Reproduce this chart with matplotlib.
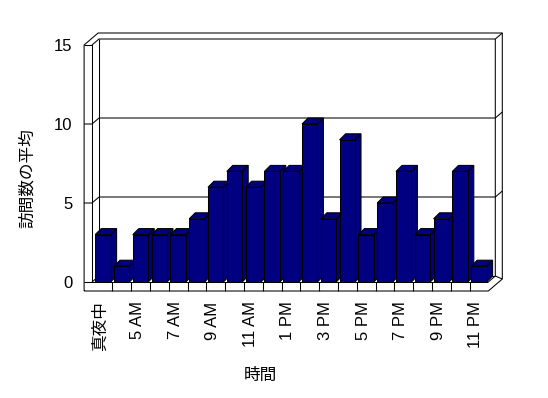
import numpy as np
import matplotlib.pyplot as plt
from matplotlib.patches import Polygon
from matplotlib.transforms import ScaledTranslation

plt.rcParams['font.family'] = ['Liberation Sans', 'Noto Sans CJK JP']

hours = ['真夜中', '4 AM', '5 AM', '6 AM', '7 AM', '8 AM', '9 AM', '10 AM', '11 AM',
         '正午', '1 PM', '2 PM', '3 PM', '4 PM', '5 PM', '6 PM', '7 PM', '8 PM',
         '9 PM', '10 PM', '11 PM']
visits = [3, 1, 3, 3, 3, 4, 6, 7, 6, 7, 7, 10, 4, 9, 3, 5, 7, 3, 4, 7, 1]
yticks = [0, 5, 10, 15]

navy = '#000080'
lw = 0.75

fig = plt.figure(figsize=(5.48, 3.98), dpi=100)
W, H = 548, 398
ax = fig.add_axes([93.5 / W, (H - 282) / H, 394.8 / W, 237 / H])
n = len(hours)
ax.set_xlim(-0.5, n - 0.5)
ax.set_ylim(0, 15)
for s in ax.spines.values():
    s.set_visible(False)


def off(x, y, dx, dy):
    # move a data point by (dx, dy) pixels
    p = ax.transData.transform((x, y)) + np.array([dx, dy])
    return ax.transData.inverted().transform(p)


def line(pts, z=1):
    pts = np.array(pts)
    ax.plot(pts[:, 0], pts[:, 1], color='black', lw=lw, clip_on=False,
            zorder=z, solid_capstyle='butt')


# frame geometry
WX, WY = 7, 6          # wall depth in pixels
XL_IN = -0.58
XL_OUT = -1.0
XR = n - 0.5
FLOOR = -0.57
TOP = yticks[-1]

# outer outline
line([(XL_OUT, FLOOR), (XL_OUT, TOP), off(XL_OUT, TOP, 2 * WX, 2 * WY),
      off(XR, TOP, 2 * WX, 2 * WY), off(XR, FLOOR, 2 * WX, 2 * WY),
      (XR, FLOOR), (XL_OUT, FLOOR)])
# left slab
line([(XL_OUT, TOP), (XL_IN, TOP), (XL_IN, 0)])
line([(XL_IN, TOP), off(XL_IN, TOP, WX, WY), off(XR, TOP, WX, WY),
      off(XR, TOP, 2 * WX, 2 * WY)])
# back wall edges
line([off(XL_IN, TOP, WX, WY), off(XL_IN, 0, WX, WY), off(XR, 0, WX, WY)])
line([off(XR, TOP, WX, WY), off(XR, 0, WX, WY), (XR, 0)])
line([off(XR, 0, WX, WY), off(XR, FLOOR, 2 * WX, 2 * WY)])
line([(XL_IN, 0), off(XL_IN, 0, WX, WY)])
# floor front face
line([(XL_OUT, 0), (XR, 0)])
for k in range(n - 1):
    line([(k + 0.5, FLOOR), (k + 0.5, 0)])
# gridlines
for v in yticks[1:-1]:
    line([(XL_OUT, v), (XL_IN, v), off(XL_IN, v, WX, WY), off(XR, v, WX, WY),
          off(XR, v, 2 * WX, 2 * WY)])

# bars
bw = 0.82
BX, BY = 6, 6
bars = ax.bar(range(n), visits, width=bw, color=navy, edgecolor='black', lw=lw)
for k, (rect, v) in enumerate(zip(bars, visits)):
    xl, xr = k - bw / 2, k + bw / 2
    top = Polygon([(xl, v), (xr, v), off(xr, v, BX, BY), off(xl, v, BX, BY)],
                  closed=True, facecolor=navy, edgecolor='black', lw=lw,
                  clip_on=False, zorder=10 + 2 * k)
    side = Polygon([(xr, 0), (xr, v), off(xr, v, BX, BY), off(xr, 0, BX, BY)],
                   closed=True, facecolor=navy, edgecolor='black', lw=lw,
                   clip_on=False, zorder=10 + 2 * k)
    ax.add_patch(side)
    ax.add_patch(top)
    rect.set_zorder(11 + 2 * k)

ax.set_xticks(range(n))
ax.set_xticklabels([h if i % 2 == 0 else '' for i, h in enumerate(hours)],
                   rotation=90, fontsize=12)
ax.set_yticks(yticks)
ax.set_yticklabels([str(t) for t in yticks], fontsize=12)
ax.tick_params(axis='x', length=0, pad=14)
ax.tick_params(axis='y', length=0, pad=15)
shift = ScaledTranslation(-3 / 100, 0, fig.dpi_scale_trans)
for lbl in ax.get_xticklabels():
    lbl.set_transform(lbl.get_transform() + shift)

ax.set_xlabel('時間', fontsize=12)
ax.xaxis.set_label_coords(0.4217, -0.363)
ax.set_ylabel('訪問数の平均', fontsize=12)
ax.yaxis.set_label_coords(-0.148, 0.44)

fig.savefig('out.png', dpi=100)
